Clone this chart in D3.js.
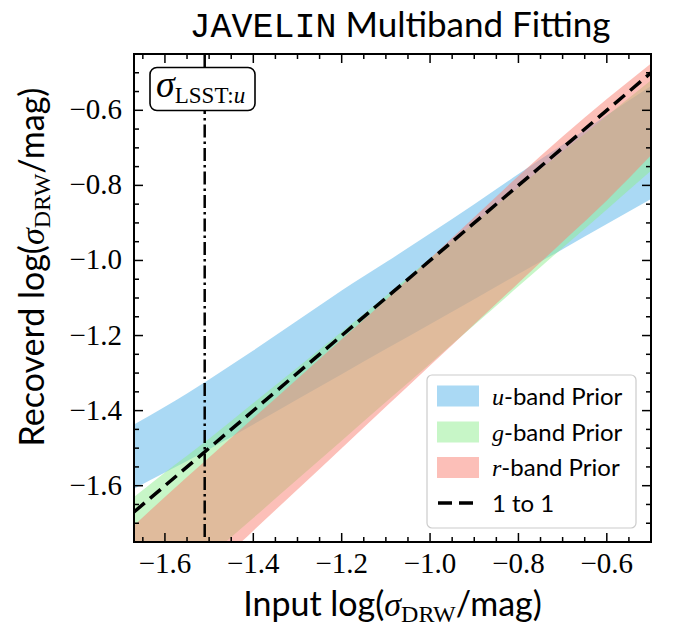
<!DOCTYPE html>
<html><head><meta charset="utf-8">
<script src="https://cdn.jsdelivr.net/npm/d3@7"></script>
<style>body{margin:0;background:#fff}</style>
</head><body><svg id="c" width="673" height="630"></svg>
<script>
// ---- data ----
const xGrid  = [-1.67,-1.6,-1.5,-1.4,-1.3,-1.2,-1.1,-1.0,-0.9,-0.8,-0.7,-0.6,-0.5];
const uUpper = [-1.437,-1.39,-1.317,-1.24,-1.16,-1.08,-1.005,-0.928,-0.85,-0.77,-0.692,-0.613,-0.535];
const uLower = [-1.608,-1.565,-1.503,-1.437,-1.37,-1.303,-1.236,-1.17,-1.103,-1.036,-0.97,-0.903,-0.836];
const gUpper = [-1.63,-1.565,-1.475,-1.38,-1.285,-1.19,-1.095,-0.995,-0.9,-0.805,-0.71,-0.615,-0.52];
const gLower = [-1.963,-1.891,-1.788,-1.686,-1.583,-1.48,-1.377,-1.275,-1.172,-1.069,-0.966,-0.864,-0.761];
const rUpper = [-1.706,-1.63,-1.525,-1.42,-1.315,-1.21,-1.105,-0.995,-0.885,-0.775,-0.67,-0.57,-0.475];
const rLower = [-2.02,-1.94,-1.83,-1.72,-1.61,-1.50,-1.39,-1.28,-1.17,-1.06,-0.95,-0.84,-0.72];
const oneToOne = [-1.67, -0.5];
const sigmaLSSTu = -1.51;
const xTicks = [-1.6,-1.4,-1.2,-1.0,-0.8,-0.6];
const yTicks = [-1.6,-1.4,-1.2,-1.0,-0.8,-0.6];
const bandNames = ["u","g","r"];
const bandColors = ["#56B4E9","#90EE90","#FA8072"];

// ---- layout ----
const svg = d3.select("#c");
const L = 134, R = 651, T = 54, B = 542;
const x = d3.scaleLinear().domain([-1.67,-0.5]).range([L,R]);
const y = d3.scaleLinear().domain([-1.75,-0.45]).range([B,T]);
const SANS = "Lato, 'Open Sans', sans-serif";
const SERIF = "'Liberation Serif', 'DejaVu Serif', serif";

svg.append("defs").append("clipPath").attr("id","clip")
  .append("rect").attr("x",L).attr("y",T).attr("width",R-L).attr("height",B-T);
const plot = svg.append("g").attr("clip-path","url(#clip)");

const bands = [[uLower,uUpper],[gLower,gUpper],[rLower,rUpper]];
bands.forEach((b,i)=>{
  const data = xGrid.map((xv,k)=>({x:xv, lo:b[0][k], hi:b[1][k]}));
  plot.append("path").datum(data)
    .attr("d", d3.area().x(d=>x(d.x)).y0(d=>y(d.lo)).y1(d=>y(d.hi)).curve(d3.curveMonotoneX))
    .attr("fill", bandColors[i]).attr("fill-opacity",0.5);
});

// 1:1 line
plot.append("line")
  .attr("x1",x(oneToOne[0])).attr("y1",y(oneToOne[0]))
  .attr("x2",x(oneToOne[1])).attr("y2",y(oneToOne[1]))
  .attr("stroke","#000").attr("stroke-width",3.5).attr("stroke-dasharray","14,7");

// dash-dot vertical
plot.append("line")
  .attr("x1",x(sigmaLSSTu)).attr("x2",x(sigmaLSSTu)).attr("y1",T).attr("y2",B)
  .attr("stroke","#000").attr("stroke-width",2.5).attr("stroke-dasharray","13,4,2.5,4");

// sigma box
svg.append("rect").attr("x",150).attr("y",67.5).attr("width",105).attr("height",43)
  .attr("rx",7).attr("fill","#fff").attr("stroke","#000").attr("stroke-width",1.6);
const st = svg.append("text").attr("x",156).attr("y",97).attr("font-family",SERIF);
st.append("tspan").attr("font-size",38).attr("font-style","italic").text("σ");
st.append("tspan").attr("font-size",23).attr("dy",6).text("LSST:");
st.append("tspan").attr("font-size",23).attr("font-style","italic").text("u");

// ticks
const ticks = svg.append("g").attr("stroke","#000").attr("stroke-width",1.5);
const minor = d3.range(-1.65,-0.49,0.05).map(v=>+v.toFixed(2));
minor.forEach(v=>{
  const major = xTicks.some(t=>Math.abs(t-v)<1e-6);
  const len = major?9:5;
  if (x(v)>L+1 && x(v)<R-1){
    ticks.append("line").attr("x1",x(v)).attr("x2",x(v)).attr("y1",B).attr("y2",B-len);
    ticks.append("line").attr("x1",x(v)).attr("x2",x(v)).attr("y1",T).attr("y2",T+len);
  }
});
d3.range(-1.70,-0.44,0.05).map(v=>+v.toFixed(2)).forEach(v=>{
  const major = yTicks.some(t=>Math.abs(t-v)<1e-6);
  const len = major?9:5;
  if (y(v)>T+1 && y(v)<B-1){
    ticks.append("line").attr("y1",y(v)).attr("y2",y(v)).attr("x1",L).attr("x2",L+len);
    ticks.append("line").attr("y1",y(v)).attr("y2",y(v)).attr("x1",R).attr("x2",R-len);
  }
});
const fmt = d3.format(".1f");
svg.append("g").selectAll("text").data(xTicks).join("text")
  .attr("x",d=>x(d)).attr("y",573).attr("text-anchor","middle")
  .attr("font-family",SERIF).attr("font-size",29).text(d=>fmt(d));
svg.append("g").selectAll("text").data(yTicks).join("text")
  .attr("x",122).attr("y",d=>y(d)+9).attr("text-anchor","end")
  .attr("font-family",SERIF).attr("font-size",29).text(d=>fmt(d));

// spine
svg.append("rect").attr("x",L).attr("y",T).attr("width",R-L).attr("height",B-T)
  .attr("fill","none").attr("stroke","#000").attr("stroke-width",2);

// axis labels
function sigLabel(sel, pre){
  sel.append("tspan").attr("font-family",SANS).text(pre+"log(");
  sel.append("tspan").attr("font-family",SERIF).attr("font-style","italic").text("σ");
  sel.append("tspan").attr("font-family",SERIF).attr("font-size",24).attr("dy",6).text("DRW");
  sel.append("tspan").attr("font-family",SANS).attr("dy",-6).text("/mag)");
}
const xl = svg.append("text").attr("x",(L+R)/2).attr("y",616).attr("text-anchor","middle").attr("font-size",34);
sigLabel(xl,"Input ");
const yl = svg.append("text").attr("transform","translate(44,267) rotate(-90)").attr("text-anchor","middle").attr("font-size",34);
sigLabel(yl,"Recoverd ");

// title
const tt = svg.append("text").attr("x",400).attr("y",37).attr("text-anchor","middle").attr("font-size",35);
tt.append("tspan").attr("font-family","'Liberation Mono', 'DejaVu Sans Mono', monospace").text("JAVELIN");
tt.append("tspan").attr("font-family",SANS).text(" Multiband Fitting");

// legend
const lg = svg.append("g");
lg.append("rect").attr("x",427).attr("y",375).attr("width",209).attr("height",153).attr("rx",5)
  .attr("fill","#fff").attr("fill-opacity",0.8).attr("stroke","#cccccc").attr("stroke-width",1.2);
const rowY = [396,432,467.5,503];
bandNames.forEach((n,i)=>{
  lg.append("rect").attr("x",437).attr("y",rowY[i]-10.5).attr("width",42).attr("height",21)
    .attr("fill",bandColors[i]).attr("fill-opacity",0.5);
  const t = lg.append("text").attr("x",492).attr("y",rowY[i]+8.5).attr("font-size",24);
  t.append("tspan").attr("font-family",SERIF).attr("font-style","italic").text(n);
  t.append("tspan").attr("font-family",SANS).text("-band Prior");
});
lg.append("line").attr("x1",438).attr("x2",478).attr("y1",rowY[3]).attr("y2",rowY[3])
  .attr("stroke","#000").attr("stroke-width",3.5).attr("stroke-dasharray","14,7");
lg.append("text").attr("x",492).attr("y",rowY[3]+8.5).attr("font-size",24).attr("font-family",SANS).text("1 to 1");
</script></body></html>
